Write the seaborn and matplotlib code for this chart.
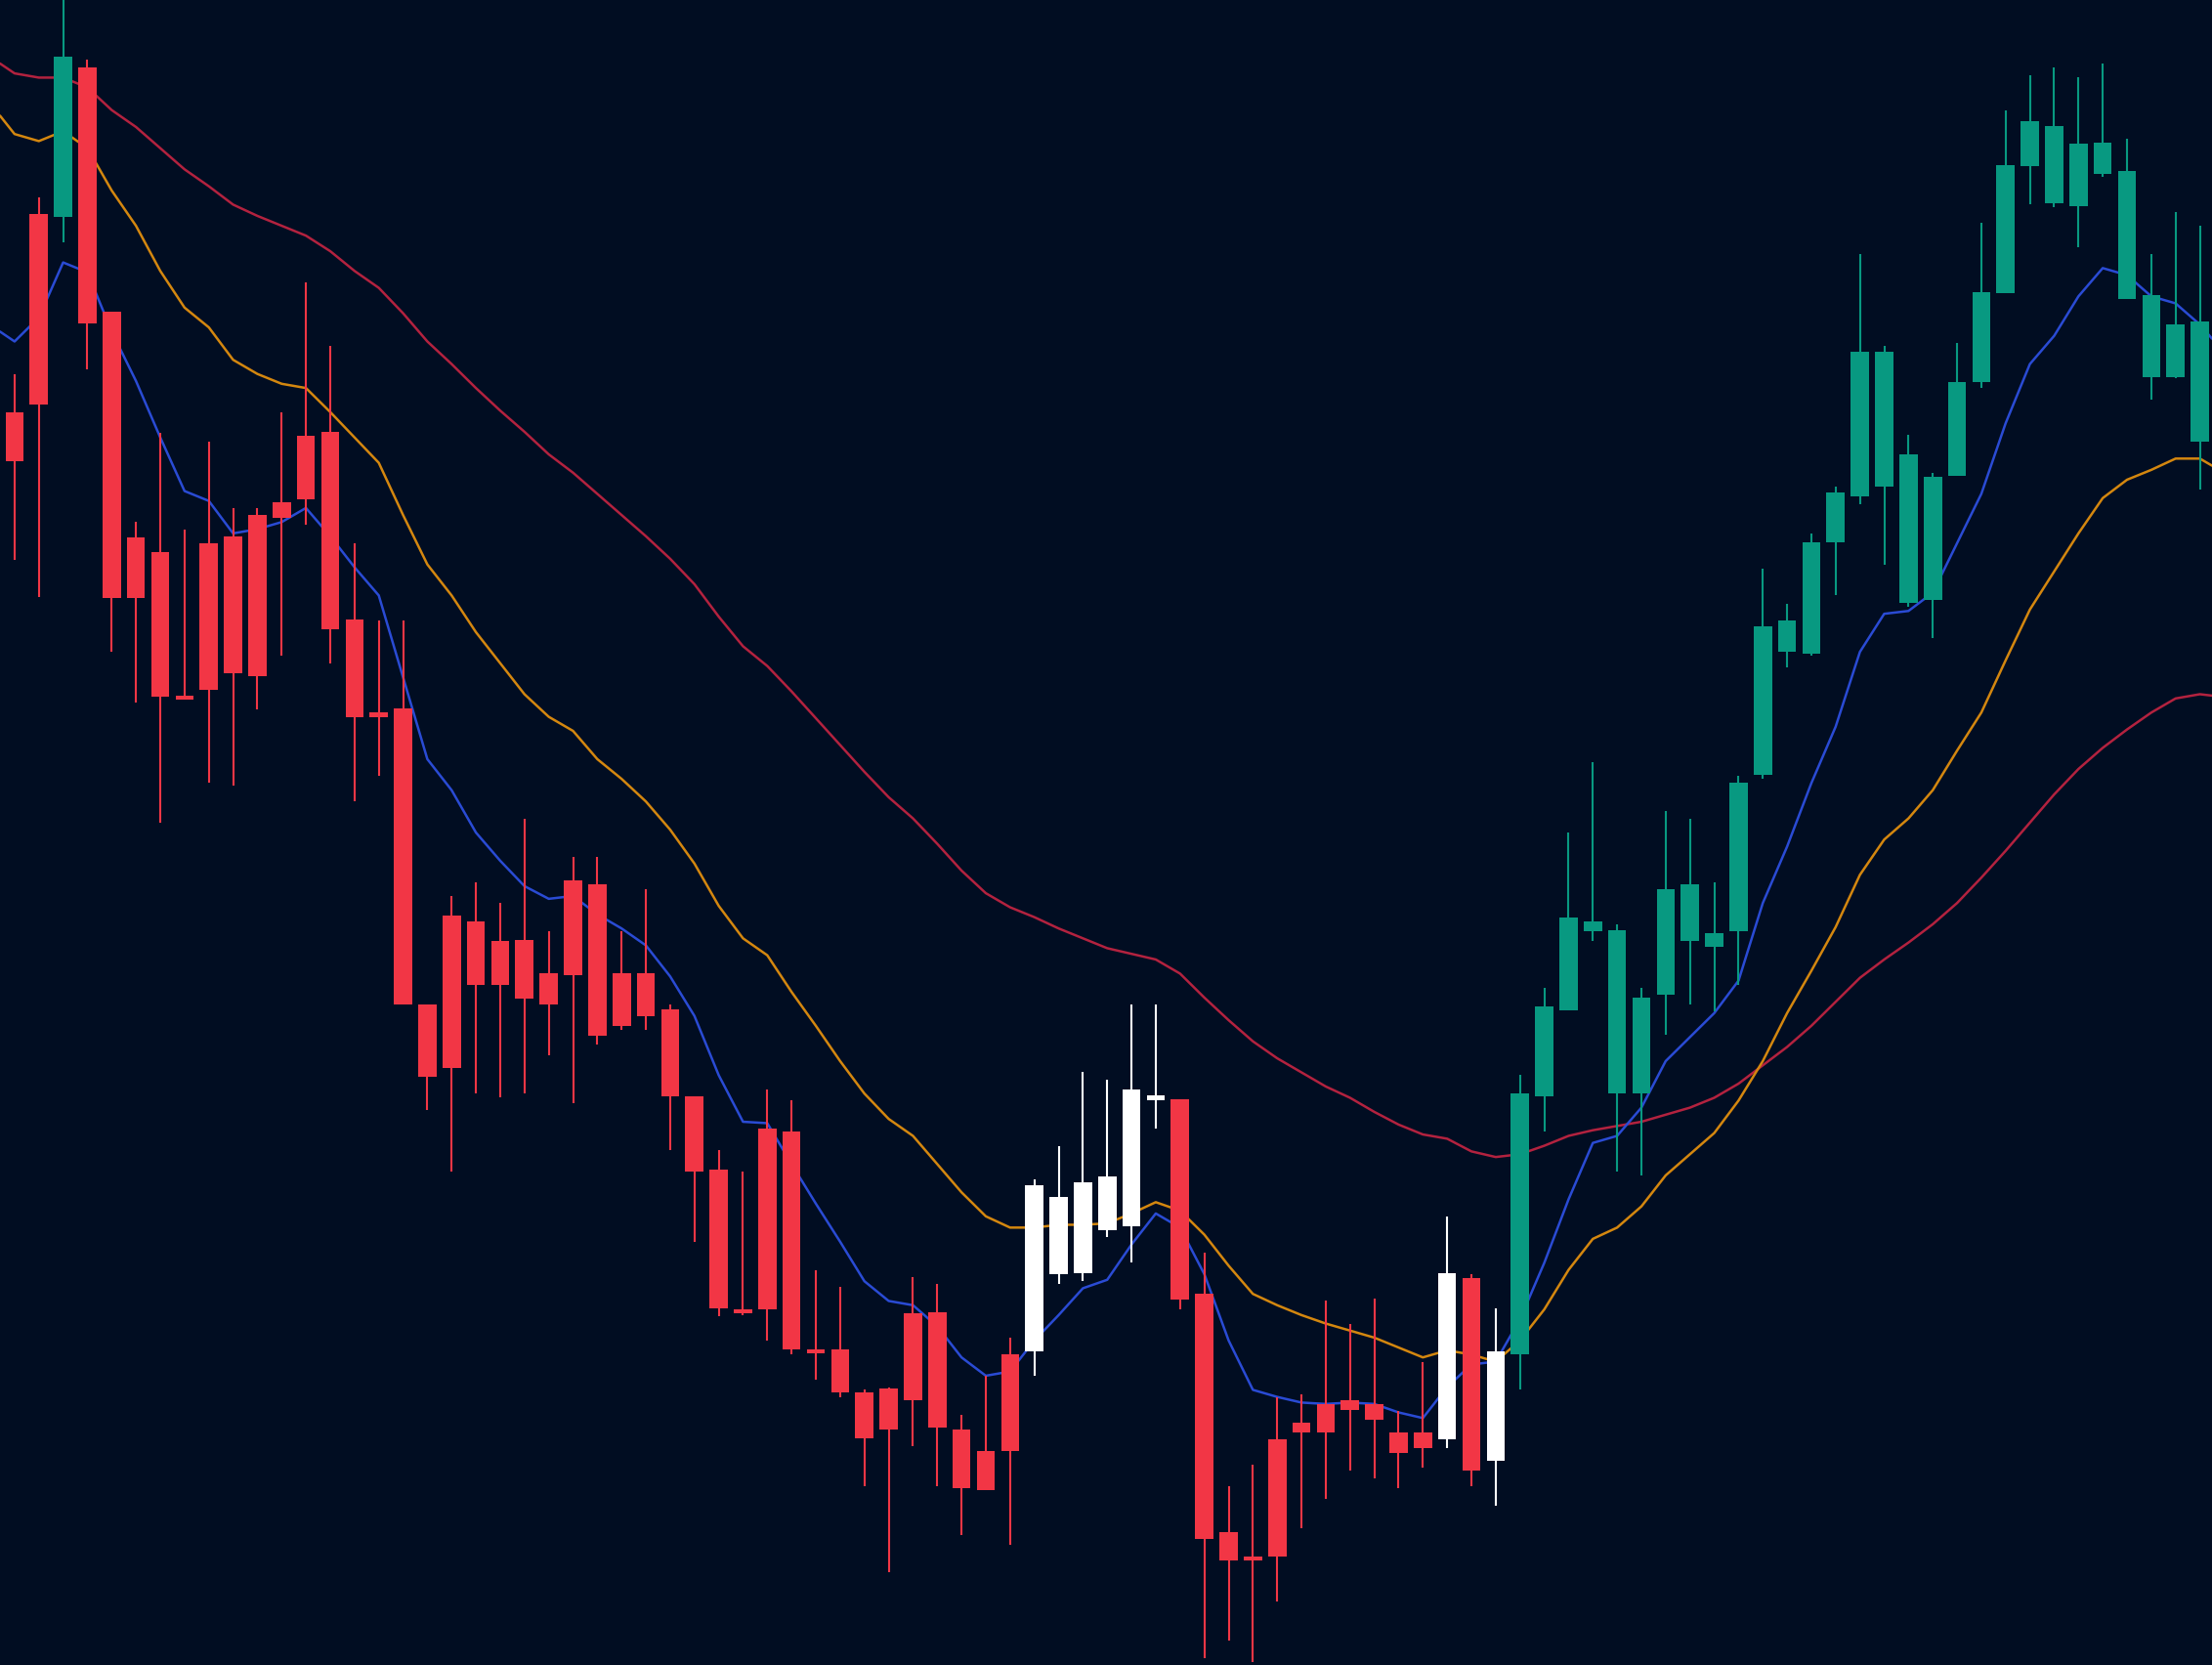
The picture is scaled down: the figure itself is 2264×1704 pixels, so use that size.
import numpy as np
import pandas as pd
import matplotlib
matplotlib.use("Agg")
import matplotlib.pyplot as plt
import seaborn as sns

H = 1180
body_a = [292,152,154,48,221,381,391,493,385,380,365,356,309,306,439,505,502,712,649,653,667,666,690,624,627,690,690,715,777,829,928,800,802,956,956,987,984,931,930,1013,1028,960,840,848,838,834,772,776,779,917,1086,1103,1020,1008,995,992,995,1015,1015,902,906,958,775,713,650,653,659,707,630,627,661,555,444,440,384,349,249,249,322,338,271,207,117,86,89,102,101,121,209,230,228]
body_b = [327,287,40,229,424,424,494,494,489,477,479,367,354,446,508,506,712,763,757,698,698,708,712,691,734,727,720,777,830,927,929,928,956,957,987,1019,1013,992,1012,1055,1056,1028,958,903,902,872,869,780,921,1091,1106,1106,1103,1015,1015,999,1006,1030,1026,1020,1042,1035,960,777,716,660,775,775,705,667,671,660,549,462,463,384,352,345,427,425,337,271,208,118,144,146,123,212,267,267,313]
wick_t = [265,140,0,42,221,370,307,375,313,360,360,292,200,245,385,440,440,712,635,625,640,580,660,607,607,660,630,712,777,815,830,772,780,900,912,985,983,905,910,1003,975,948,836,812,760,765,712,712,779,888,1053,1038,990,988,922,938,920,1000,965,862,903,927,762,700,590,540,655,700,575,580,625,550,403,428,378,345,180,245,308,335,243,158,78,53,48,55,45,98,180,150,160]
wick_b = [397,423,172,262,462,498,583,495,555,557,503,465,372,470,568,550,712,787,830,775,778,775,748,782,740,730,730,815,880,933,932,950,960,978,990,1053,1114,1025,1053,1088,1056,1095,975,910,908,877,895,800,928,1175,1163,1178,1135,1083,1062,1042,1048,1055,1040,1026,1053,1067,985,802,716,667,830,833,733,712,717,698,552,473,465,422,357,400,430,452,337,275,208,145,147,175,125,212,283,268,347]
kind = (["r","r","g"] + ["r"]*39 + ["w"]*6 + ["r"]*11 + ["w","r","w"] + ["g"]*29)

ma_fast = [235,242,225,186,193,235,270,310,348,355,378,375,370,360,380,402,422,480,538,560,590,610,628,637,635,648,658,670,692,720,762,795,796,825,853,880,908,922,925,940,962,975,972,950,932,913,907,882,860,870,903,950,985,990,994,995,994,995,1001,1005,983,967,965,935,895,850,810,805,785,752,735,718,695,640,600,555,515,462,435,433,420,385,350,300,258,238,210,190,195,210,215,230,240]
ma_mid = [82,95,100,93,105,135,160,192,218,232,255,265,272,275,292,310,328,365,400,422,448,470,492,508,518,538,552,568,588,612,642,665,677,703,727,752,775,793,805,825,845,862,870,870,868,868,867,860,852,858,875,897,917,925,932,938,943,948,955,962,957,960,965,950,928,900,878,870,855,833,818,803,780,752,718,688,657,620,595,580,560,532,505,468,432,405,378,353,340,333,325,325,330]
ma_slow = [45,52,55,55,62,78,90,105,120,132,145,153,160,167,178,192,204,222,242,258,275,291,306,322,335,350,365,380,396,414,437,458,472,490,509,528,547,565,580,598,617,633,643,650,658,665,672,676,680,690,707,723,738,750,760,770,778,788,797,804,807,816,820,818,812,805,801,798,795,790,785,778,768,755,742,727,710,693,680,668,655,640,622,603,583,563,545,530,517,505,495,492,493]

n = len(kind)
BG = "#010d22"
COL = {"r": "#f23645", "g": "#089981", "w": "#ffffff"}

sns.set_theme(style="dark")
fig = plt.figure(figsize=(22.64, 17.04), dpi=100)
fig.patch.set_facecolor(BG)
ax = fig.add_axes([0, 0, 1, 1])
ax.set_facecolor(BG)

def line_x(vals):
    m = len(vals) - 2
    return [-0.6] + list(range(m)) + [m - 0.5]

for vals, c in [(ma_slow, "#b3223f"), (ma_mid, "#d4870f"), (ma_fast, "#2a4bd4")]:
    df = pd.DataFrame({"x": line_x(vals), "y": [H - v for v in vals]})
    sns.lineplot(data=df, x="x", y="y", ax=ax, color=c, linewidth=1.8, sort=False)

x = np.arange(n)
m = min(n, len(body_a), len(body_b), len(wick_t), len(wick_b))
for i in range(m):
    c = COL[kind[i]]
    ax.vlines(i, H - wick_b[i], H - wick_t[i], color=c, linewidth=1.5, zorder=3)
    top, bot = min(body_a[i], body_b[i]), max(body_a[i], body_b[i])
    hgt = max(bot - top, 3)
    ax.bar(i, hgt, bottom=H - top - hgt, width=0.75, color=c, zorder=4, linewidth=0)

ax.set_xlim(-0.6, 90.5)
ax.set_ylim(0, H)
ax.axis("off")
fig.savefig("out.png", dpi=100, facecolor=BG)
